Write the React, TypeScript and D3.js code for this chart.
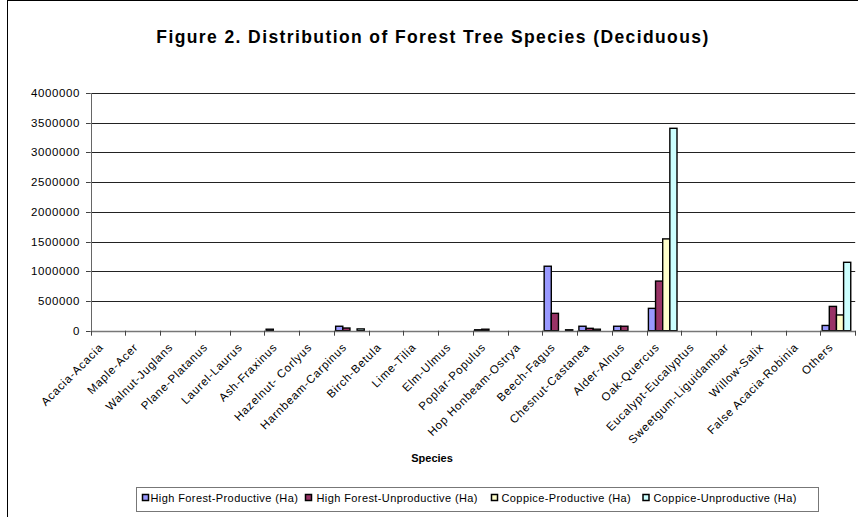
import React from "react";
import * as d3 from "d3";

// Species categories along the x axis
const species = [
  "Acacia-Acacia",
  "Maple-Acer",
  "Walnut-Juglans",
  "Plane-Platanus",
  "Laurel-Laurus",
  "Ash-Fraxinus",
  "Hazelnut- Corlyus",
  "Harnbeam-Carpinus",
  "Birch-Betula",
  "Lime-Tilia",
  "Elm-Ulmus",
  "Poplar-Populus",
  "Hop Honbeam-Ostrya",
  "Beech-Fagus",
  "Chesnut-Castanea",
  "Alder-Alnus",
  "Oak-Quercus",
  "Eucalypt-Eucalyptus",
  "Sweetgum-Liguidambar",
  "Willow-Salix",
  "False Acacia-Robinia",
  "Others",
];

// Area (Ha) per species, one array per series
const highForestProductive = [0, 0, 0, 0, 0, 25000, 0, 75000, 0, 0, 0, 15000, 0, 1085000, 75000, 75000, 376000, 0, 0, 0, 0, 88000];
const highForestUnproductive = [0, 0, 0, 0, 0, 0, 0, 45000, 0, 0, 0, 25000, 0, 292000, 40000, 75000, 835000, 0, 0, 0, 0, 409000];
const coppiceProductive = [0, 0, 0, 0, 0, 0, 0, 0, 0, 0, 0, 0, 0, 0, 25000, 0, 1545000, 0, 0, 0, 0, 265000];
const coppiceUnproductive = [0, 0, 0, 0, 0, 0, 0, 30000, 0, 0, 0, 0, 0, 15000, 0, 0, 3406000, 0, 0, 0, 0, 1151000];

const seriesNames = [
  "High Forest-Productive (Ha)",
  "High Forest-Unproductive (Ha)",
  "Coppice-Productive (Ha)",
  "Coppice-Unproductive (Ha)",
];
const seriesColors = ["#9999FF", "#993366", "#FFFFCC", "#CCFFFF"];
const seriesValues = [highForestProductive, highForestUnproductive, coppiceProductive, coppiceUnproductive];

const yTicks = [0, 500000, 1000000, 1500000, 2000000, 2500000, 3000000, 3500000, 4000000];

const W = 858;
const H = 517;
const plot = { left: 90.7, right: 855.2, top: 93, bottom: 330.7 };
const font = "'Liberation Sans', Arial, sans-serif";

export default function App() {
  const x0 = d3.scaleBand<string>().domain(species).range([plot.left, plot.right]).paddingInner(0).paddingOuter(0);
  const x1 = d3.scaleBand<number>().domain([0, 1, 2, 3]).range([1.7, 30.3]).padding(0);
  const y = d3.scaleLinear().domain([0, 4000000]).range([plot.bottom, plot.top]);
  const fmt = d3.format("d");

  const legendItems = [
    { mx: 143, tx: 150.5 },
    { mx: 306, tx: 316.5 },
    { mx: 492, tx: 501.5 },
    { mx: 643.5, tx: 653.5 },
  ];

  return (
    <svg width={W} height={H} style={{ position: "absolute", left: 0, top: 0, background: "#fff" }} fontFamily={font}>
      <rect x={0} y={0} width={W} height={H} fill="#fff" />
      {/* chart area border */}
      <rect x={7.5} y={0.5} width={W + 20} height={H + 20} fill="none" stroke="#000" strokeWidth={1} />

      <text x={433} y={43} textAnchor="middle" fontSize={17.5} fontWeight="bold" letterSpacing={1.4} fill="#000">
        Figure 2. Distribution of Forest Tree Species (Deciduous)
      </text>

      {/* horizontal gridlines */}
      {yTicks.slice(1).map((t) => (
        <line key={t} x1={plot.left} x2={plot.right} y1={Math.round(y(t)) + 0.5} y2={Math.round(y(t)) + 0.5} stroke="#222" strokeWidth={1} />
      ))}

      {/* y axis */}
      <line x1={Math.round(plot.left) + 0.5} x2={Math.round(plot.left) + 0.5} y1={plot.top} y2={plot.bottom} stroke="#666" strokeWidth={1} />
      {yTicks.map((t) => (
        <g key={t}>
          <line x1={86} x2={plot.left} y1={Math.round(y(t)) + 0.5} y2={Math.round(y(t)) + 0.5} stroke="#444" />
          <text x={80} y={y(t) + 4} textAnchor="end" fontSize={11.5} letterSpacing={0.6} fill="#000">
            {fmt(t)}
          </text>
        </g>
      ))}

      {/* bars */}
      {seriesValues.map((vals, si) =>
        vals.map((v, ci) =>
          v > 0 ? (
            <rect
              key={`${si}-${ci}`}
              x={(x0(species[ci]) as number) + (x1(si) as number)}
              y={y(v)}
              width={x1.bandwidth()}
              height={plot.bottom - y(v)}
              fill={seriesColors[si]}
              stroke="#000"
              strokeWidth={1.4}
            />
          ) : null
        )
      )}

      {/* x axis */}
      <line x1={plot.left} x2={plot.right} y1={Math.round(plot.bottom) + 0.5} y2={Math.round(plot.bottom) + 0.5} stroke="#777" strokeWidth={1.5} />
      {species.map((s) => (
        <line key={s} x1={Math.round(x0(s) as number) + 0.5} x2={Math.round(x0(s) as number) + 0.5} y1={plot.bottom} y2={plot.bottom + 5} stroke="#444" />
      ))}
      <line x1={Math.round(plot.right) + 0.5} x2={Math.round(plot.right) + 0.5} y1={plot.bottom} y2={plot.bottom + 5} stroke="#444" />

      {species.map((s) => {
        const cx = (x0(s) as number) + x0.bandwidth() / 2 - 4;
        const cy = 348;
        return (
          <text key={s} x={cx} y={cy} transform={`rotate(-45 ${cx} ${cy})`} textAnchor="end" fontSize={11.5} letterSpacing={0.75} fill="#000">
            {s}
          </text>
        );
      })}

      <text x={432} y={462} textAnchor="middle" fontSize={11} fontWeight="bold" fill="#000">
        Species
      </text>

      {/* legend */}
      <rect x={136.5} y={487.5} width={682} height={24} fill="#fff" stroke="#777" strokeWidth={1} />
      {seriesNames.map((n, i) => (
        <g key={n}>
          <rect x={legendItems[i].mx - 0.5} y={494.5} width={6} height={6} fill={seriesColors[i]} stroke="#000" strokeWidth={1.5} />
          <text x={legendItems[i].tx} y={502} fontSize={11} letterSpacing={0.4} fill="#000">
            {n}
          </text>
        </g>
      ))}
    </svg>
  );
}
